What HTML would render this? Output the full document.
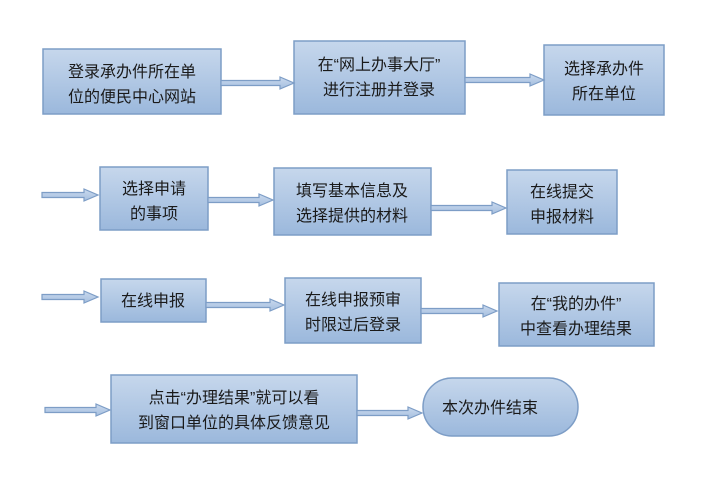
<!DOCTYPE html>
<html><head><meta charset="utf-8"><style>
html,body{margin:0;padding:0;background:#fff;}
svg{display:block;}
text{font-family:"Liberation Sans","Noto Sans CJK SC",sans-serif;font-size:16px;fill:#1a1a1a;text-anchor:middle;}
</style></head><body>
<svg width="727" height="486" viewBox="0 0 727 486" xmlns="http://www.w3.org/2000/svg">
<defs>
<linearGradient id="g" x1="0" y1="0" x2="0" y2="1">
<stop offset="0" stop-color="#c6d7ec"/><stop offset="1" stop-color="#9bb8dc"/>
</linearGradient>
<linearGradient id="a" x1="0" y1="0" x2="0" y2="1">
<stop offset="0" stop-color="#c9d9ee"/><stop offset="1" stop-color="#a5bfdf"/>
</linearGradient>
</defs>
<g fill="url(#g)" stroke="#7d9dc6" stroke-width="1.5">
<rect x="43" y="49" width="178" height="65"/>
<rect x="294" y="41" width="171" height="73"/>
<rect x="544" y="45" width="120" height="70"/>
<rect x="100" y="167" width="108" height="63"/>
<rect x="274" y="168" width="157" height="67"/>
<rect x="507" y="170" width="110" height="64"/>
<rect x="101" y="279" width="105" height="43"/>
<rect x="285" y="278" width="136" height="65"/>
<rect x="499" y="283" width="155" height="63"/>
<rect x="111" y="375" width="246" height="68"/>
<rect x="423" y="378" width="155" height="58" rx="29"/>
</g>
<g fill="url(#a)" stroke="#7d9dc6" stroke-width="1.2">
<path d="M221,80.5 H280 V77 L294,83 L280,89 V85.5 H221 Z"/>
<path d="M465,77.5 H530 V74 L544,80 L530,86 V82.5 H465 Z"/>
<path d="M42,192.5 H84 V189 L98,195 L84,201 V197.5 H42 Z"/>
<path d="M208,197.5 H259 V194 L273,200 L259,206 V202.5 H208 Z"/>
<path d="M431,205.5 H492 V202 L506,208 L492,214 V210.5 H431 Z"/>
<path d="M42,294.5 H84 V291 L98,297 L84,303 V299.5 H42 Z"/>
<path d="M206,302.5 H270 V299 L284,305 L270,311 V307.5 H206 Z"/>
<path d="M421,308.5 H483 V305 L497,311 L483,317 V313.5 H421 Z"/>
<path d="M45,407.5 H96 V404 L110,410 L96,416 V412.5 H45 Z"/>
<path d="M357,410.5 H408 V407 L422,413 L408,419 V415.5 H357 Z"/>
</g>
<text x="132" y="77">登录承办件所在单</text>
<text x="132" y="102">位的便民中心网站</text>
<text x="379" y="70">在“网上办事大厅”</text>
<text x="379" y="95">进行注册并登录</text>
<text x="604" y="74">选择承办件</text>
<text x="604" y="99">所在单位</text>
<text x="154" y="194">选择申请</text>
<text x="154" y="219">的事项</text>
<text x="352" y="196">填写基本信息及</text>
<text x="352" y="221">选择提供的材料</text>
<text x="562" y="197">在线提交</text>
<text x="562" y="222">申报材料</text>
<text x="153" y="306">在线申报</text>
<text x="353" y="305">在线申报预审</text>
<text x="353" y="330">时限过后登录</text>
<text x="576" y="309">在“我的办件”</text>
<text x="576" y="334">中查看办理结果</text>
<text x="234" y="403">点击“办理结果”就可以看</text>
<text x="234" y="428">到窗口单位的具体反馈意见</text>
<text x="490" y="413">本次办件结束</text>
</svg>
</body></html>
